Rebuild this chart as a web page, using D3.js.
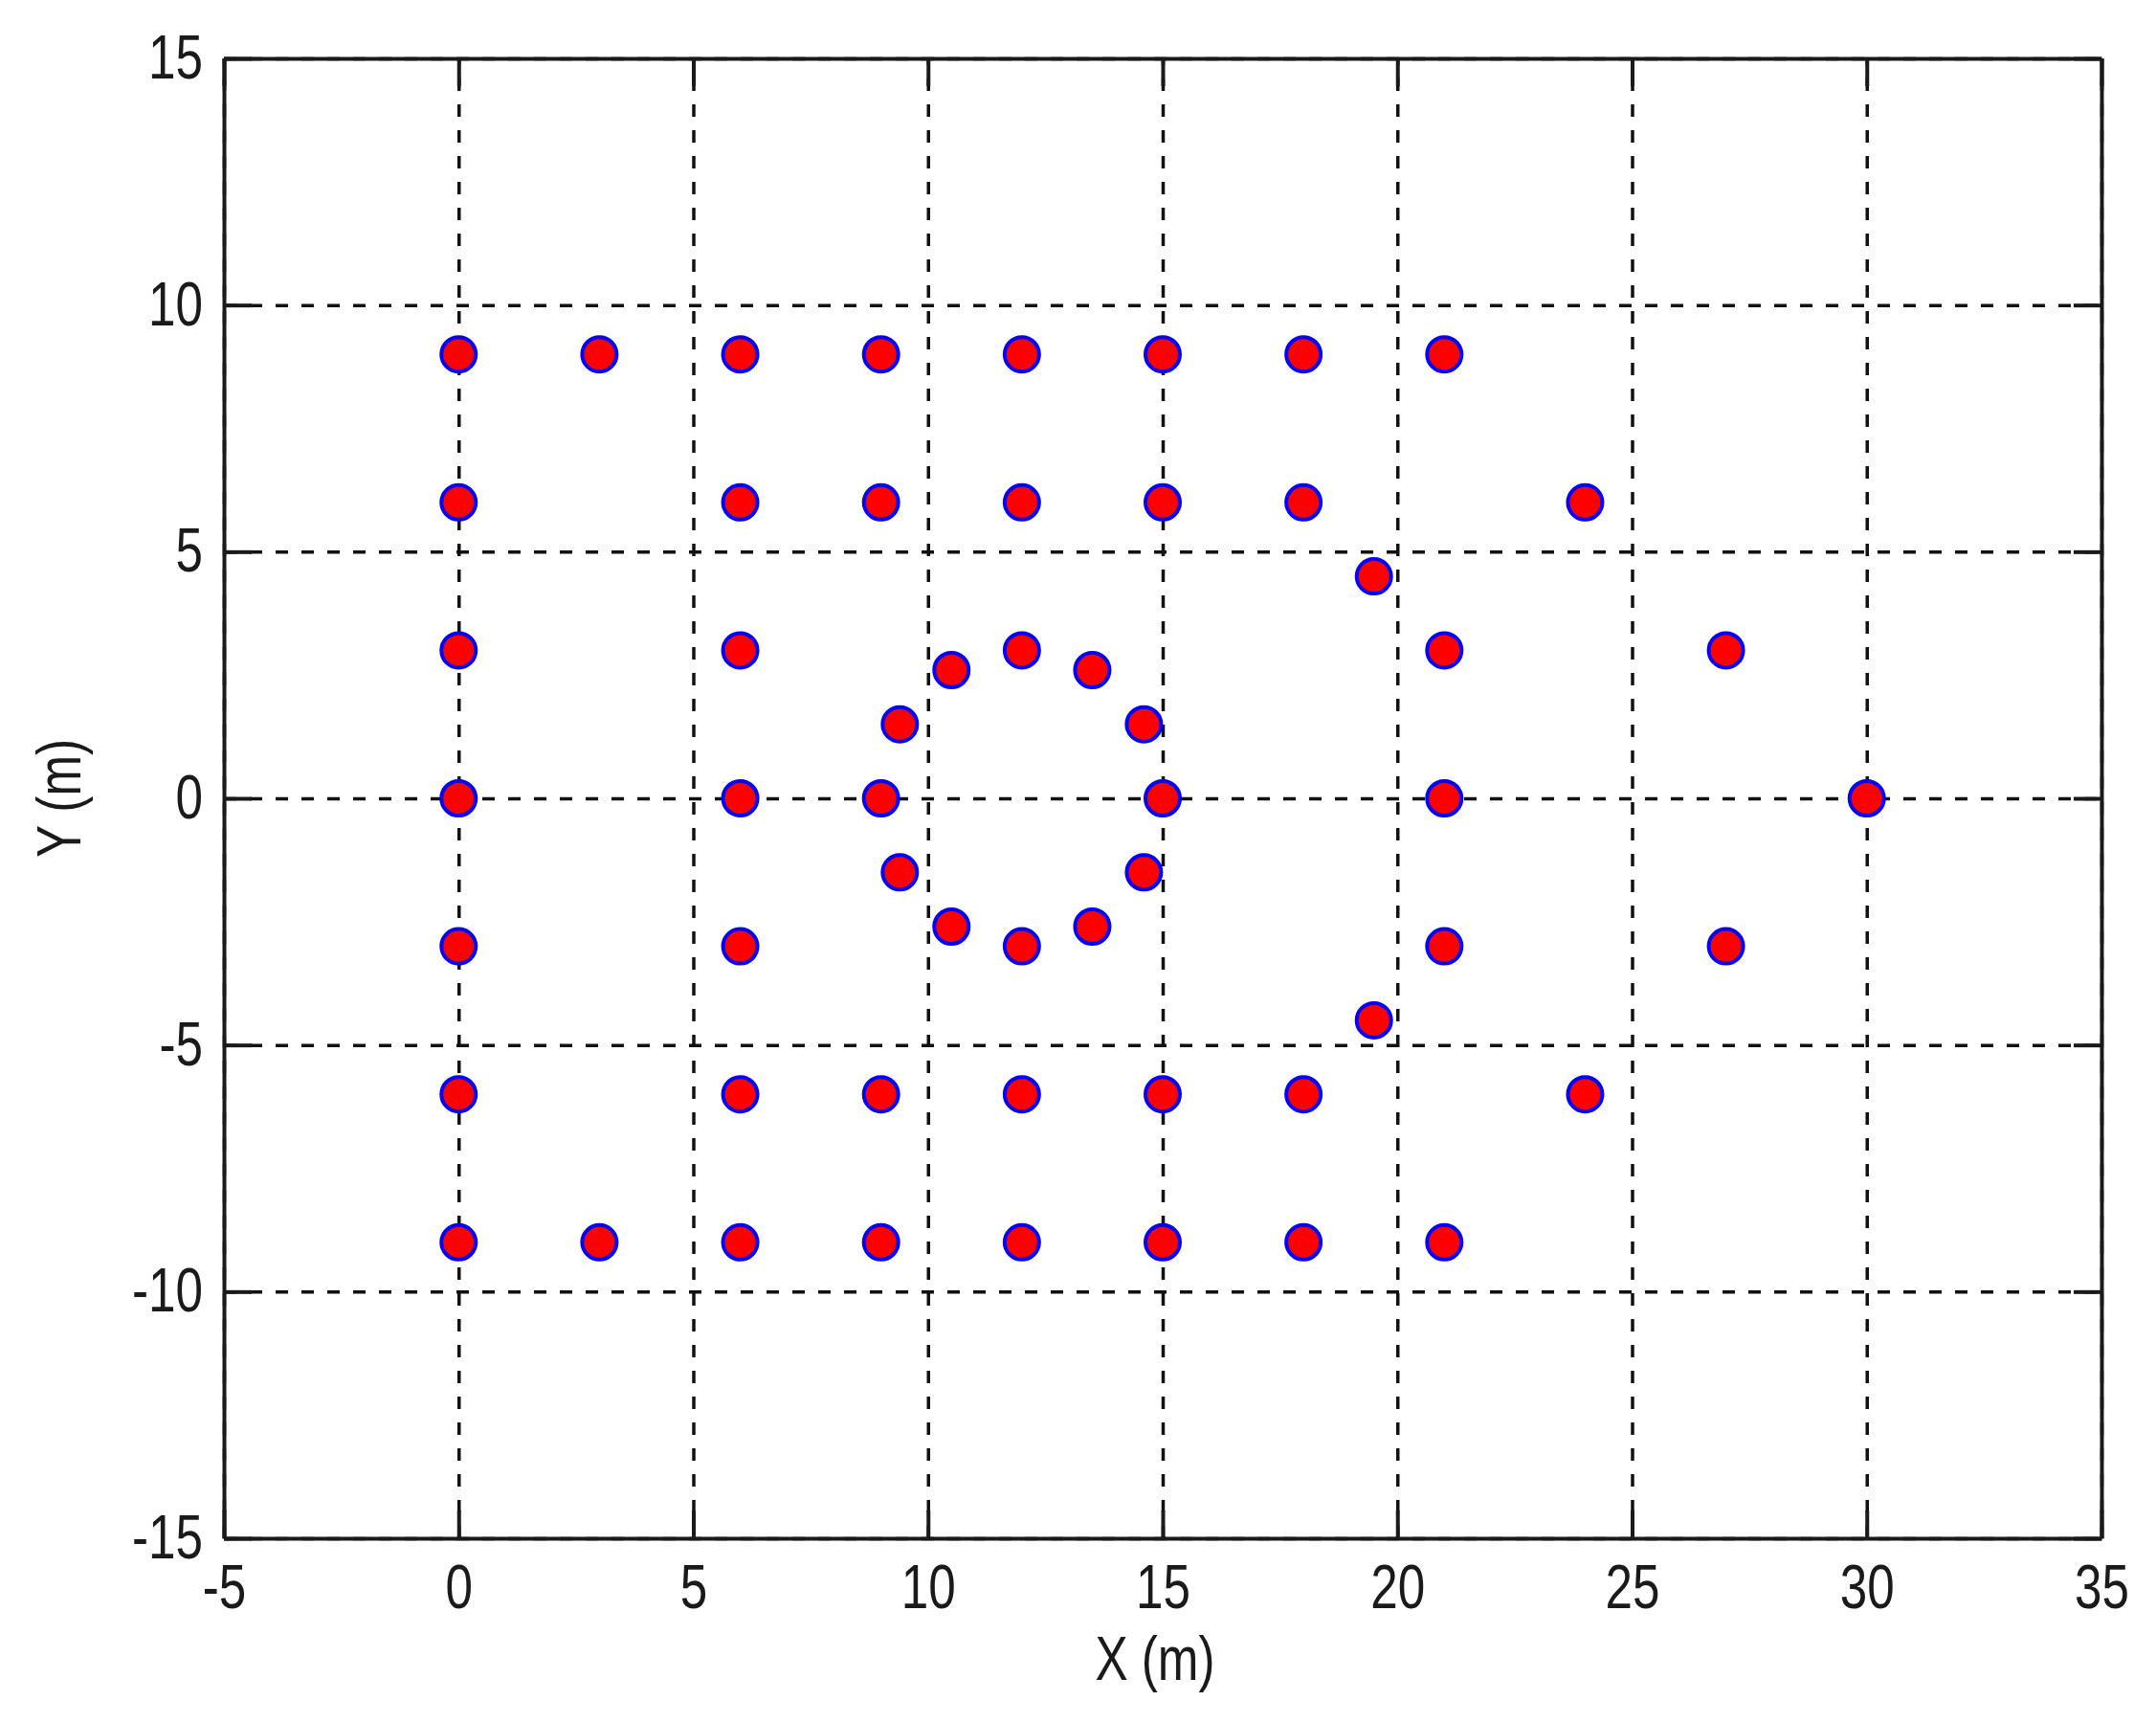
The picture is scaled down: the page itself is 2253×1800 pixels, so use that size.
<!DOCTYPE html>
<meta charset="utf-8">
<script src="https://d3js.org/d3.v7.min.js"></script>
<style>
body { margin: 0; background: #fff; }
text { font-family: "Liberation Sans", Arial, sans-serif; fill: #1a1a1a; }
</style>
<div id="chart"></div>
<script>
// sensor positions (metres)
var xs = [0, 3, 6, 9, 12, 15, 18, 21,
          0, 6, 9, 12, 15, 18, 24,
          19.5,
          0, 6, 21, 27,
          0, 6, 21, 30,
          0, 6, 21, 27,
          19.5,
          0, 6, 9, 12, 15, 18, 24,
          0, 3, 6, 9, 12, 15, 18, 21,
          // ring round (12, 0)
          15, 14.6, 13.5, 12, 10.5, 9.4, 9, 9.4, 10.5, 12, 13.5, 14.6];
var ys = [9, 9, 9, 9, 9, 9, 9, 9,
          6, 6, 6, 6, 6, 6, 6,
          4.5,
          3, 3, 3, 3,
          0, 0, 0, 0,
          -3, -3, -3, -3,
          -4.5,
          -6, -6, -6, -6, -6, -6, -6,
          -9, -9, -9, -9, -9, -9, -9, -9,
          0, 1.5, 2.6, 3, 2.6, 1.5, 0, -1.5, -2.6, -3, -2.6, -1.5];

var xTicks = [-5, 0, 5, 10, 15, 20, 25, 30, 35];
var yTicks = [-15, -10, -5, 0, 5, 10, 15];

var margin = {top: 61, right: 57, bottom: 193, left: 234},
    width = 2253 - margin.left - margin.right,
    height = 1800 - margin.top - margin.bottom;

var svg = d3.select("#chart")
  .append("svg")
    .attr("width", 2253)
    .attr("height", 1800)
  .append("g")
    .attr("transform", "translate(" + margin.left + "," + margin.top + ")");

var x = d3.scaleLinear().domain([-5, 35]).range([0, width]);
var y = d3.scaleLinear().domain([-15, 15]).range([height, 0]);

var fmt = function(d) { return String(d); };
var tickLen = 29;
var squeeze = 0.8;   // the original lettering is tall and narrow

// dashed grid
svg.append("g")
    .attr("class", "grid")
    .attr("transform", "translate(0," + height + ")")
    .call(d3.axisBottom(x).tickValues(xTicks).tickSize(-height).tickFormat(""));
svg.append("g")
    .attr("class", "grid")
    .call(d3.axisLeft(y).tickValues(yTicks).tickSize(-width).tickFormat(""));
svg.selectAll(".grid .domain").remove();
svg.selectAll(".grid line")
    .attr("stroke", "#111")
    .attr("stroke-width", 3.5)
    .attr("stroke-dasharray", "13,14");

// axes with inward ticks on all four sides
var axBottom = svg.append("g")
    .attr("transform", "translate(0," + height + ")")
    .call(d3.axisBottom(x).tickValues(xTicks).tickSizeInner(-tickLen).tickSizeOuter(0).tickPadding(25).tickFormat(fmt));
var axLeft = svg.append("g")
    .call(d3.axisLeft(y).tickValues(yTicks).tickSizeInner(-tickLen).tickSizeOuter(0).tickPadding(22).tickFormat(fmt));
var axTop = svg.append("g")
    .call(d3.axisTop(x).tickValues(xTicks).tickSizeInner(-tickLen).tickSizeOuter(0).tickFormat(""));
var axRight = svg.append("g")
    .attr("transform", "translate(" + width + ",0)")
    .call(d3.axisRight(y).tickValues(yTicks).tickSizeInner(-tickLen).tickSizeOuter(0).tickFormat(""));

[axBottom, axLeft, axTop, axRight].forEach(function(g) {
  g.select(".domain").attr("stroke", "#1a1a1a").attr("stroke-width", 4);
  g.selectAll(".tick line").attr("stroke", "#1a1a1a").attr("stroke-width", 4);
  g.selectAll(".tick text")
      .style("font-size", "64px")
      .attr("fill", "#1a1a1a")
      .attr("x", function() { return +d3.select(this).attr("x") / squeeze; })
      .attr("transform", "scale(" + squeeze + ",1)");
});
axBottom.selectAll(".tick text").attr("dy", "0.75em");

// markers
svg.selectAll(".pt")
  .data(d3.range(xs.length))
  .enter().append("circle")
    .attr("class", "pt")
    .attr("cx", function(i) { return x(xs[i]); })
    .attr("cy", function(i) { return y(ys[i]); })
    .attr("r", 18)
    .attr("fill", "#ff0000")
    .attr("stroke", "#0000ff")
    .attr("stroke-width", 4);

// axis titles
svg.append("text")
    .attr("transform", "translate(" + (width / 2 - 8) + "," + (height + 148) + ") scale(" + squeeze + ",1)")
    .attr("text-anchor", "middle")
    .style("font-size", "64px")
    .text("X (m)");
svg.append("text")
    .attr("transform", "translate(" + (-150) + "," + (height / 2) + ") rotate(-90) scale(" + squeeze + ",1)")
    .attr("text-anchor", "middle")
    .style("font-size", "64px")
    .text("Y (m)");
</script>
